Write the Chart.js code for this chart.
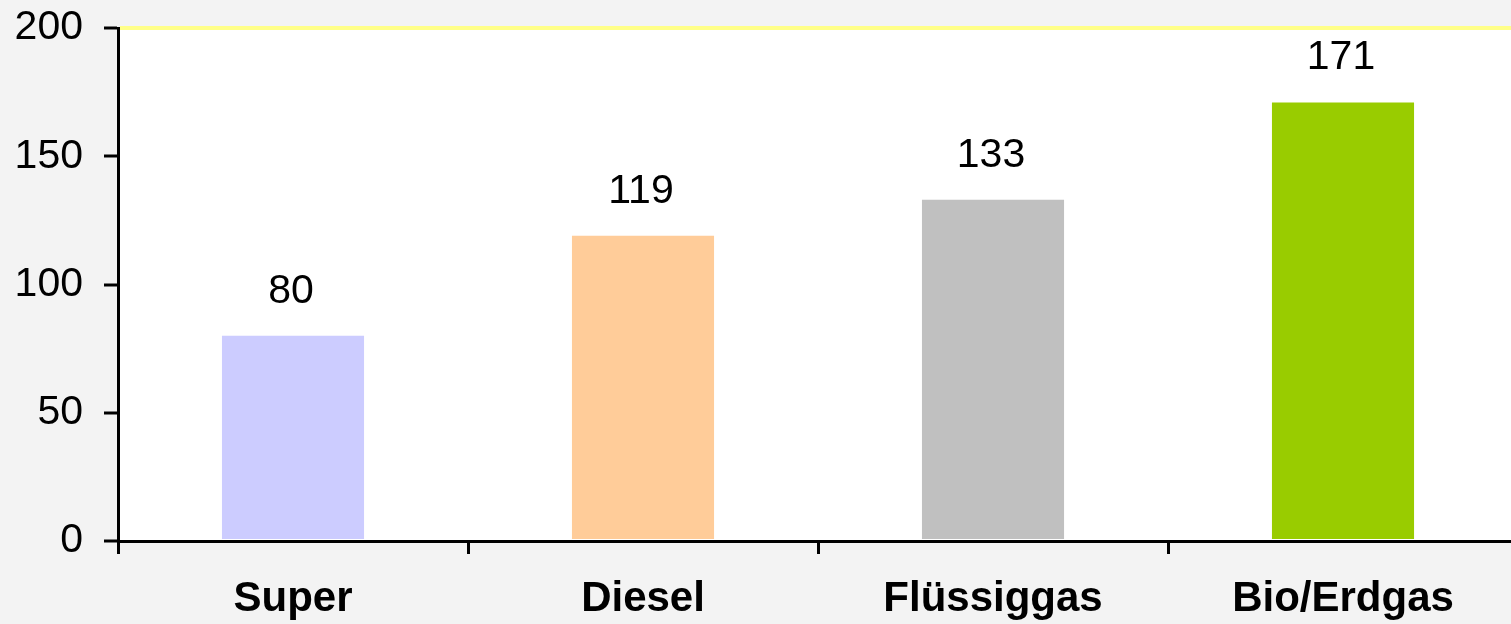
<!DOCTYPE html>
<html>
<head>
<meta charset="utf-8">
<script src="https://cdn.jsdelivr.net/npm/chart.js@4/dist/chart.umd.min.js"></script>
<style>
    html, body { margin: 0; padding: 0; overflow: hidden; background: #f3f3f3; }
    #wrap { width: 1511px; height: 624px; overflow: hidden; }
</style>
</head>
<body>
<div id="wrap"><canvas id="barChart" width="1518" height="624"></canvas></div>
<script>
var categories = ['Super', 'Diesel', 'Flüssiggas', 'Bio/Erdgas'];
var values = [80, 119, 133, 171];
var barColors = ['#ccccff', '#ffcc99', '#c0c0c0', '#99cc00'];
var yMin = 0;
var yMax = 200;
var yStep = 50;

var fontName = '"Liberation Sans", Arial, sans-serif';

// grey page with a white plot area
var backgroundPlugin = {
    id: 'background',
    beforeDraw: function (chart) {
        var ctx = chart.ctx;
        var a = chart.chartArea;
        ctx.save();
        ctx.fillStyle = '#f3f3f3';
        ctx.fillRect(0, 0, chart.width, chart.height);
        ctx.fillStyle = '#ffffff';
        ctx.fillRect(a.left, a.top, a.right - a.left, a.bottom - a.top);
        ctx.restore();
    }
};

// numbers above the bars
var valueLabels = {
    id: 'valueLabels',
    afterDatasetsDraw: function (chart) {
        var ctx = chart.ctx;
        var meta = chart.getDatasetMeta(0);
        ctx.save();
        ctx.font = '41px ' + fontName;
        ctx.fillStyle = '#000';
        ctx.textAlign = 'center';
        ctx.textBaseline = 'alphabetic';
        for (var i = 0; i < meta.data.length; i++) {
            var bar = meta.data[i];
            ctx.fillText(values[i], bar.x - 2, bar.y - 33);
        }
        ctx.restore();
    }
};

var ctx = document.getElementById('barChart').getContext('2d');
var myChart = new Chart(ctx, {
    type: 'bar',
    data: {
        labels: categories,
        datasets: [{
            data: values,
            backgroundColor: barColors,
            borderWidth: 0,
            barPercentage: 0.406,
            categoryPercentage: 1.0
        }]
    },
    options: {
        responsive: false,
        animation: false,
        layout: { padding: { top: 28, right: 0, left: 0, bottom: 0 } },
        plugins: {
            legend: { display: false },
            tooltip: { enabled: false }
        },
        scales: {
            x: {
                offset: true,
                grid: {
                    offset: true,
                    drawOnChartArea: false,
                    tickLength: 13,
                    tickColor: '#000',
                    lineWidth: 3
                },
                border: { color: '#000', width: 3 },
                ticks: {
                    color: '#000',
                    padding: 20,
                    font: { family: fontName, size: 42, weight: 'bold' }
                },
                afterFit: function (scale) { scale.height = 83; }
            },
            y: {
                min: yMin,
                max: yMax,
                grid: {
                    color: function (c) {
                        return c.tick && c.tick.value === yMax ? '#ffff88' : 'rgba(0,0,0,0)';
                    },
                    lineWidth: 4,
                    tickLength: 14,
                    tickColor: '#000',
                    tickWidth: 3
                },
                border: { color: '#000', width: 3 },
                ticks: {
                    stepSize: yStep,
                    color: '#000',
                    padding: 21,
                    font: { family: fontName, size: 41, lineHeight: 0.2 }
                },
                afterFit: function (scale) { scale.width = 118; }
            }
        }
    },
    plugins: [backgroundPlugin, valueLabels]
});
</script>
</body>
</html>
